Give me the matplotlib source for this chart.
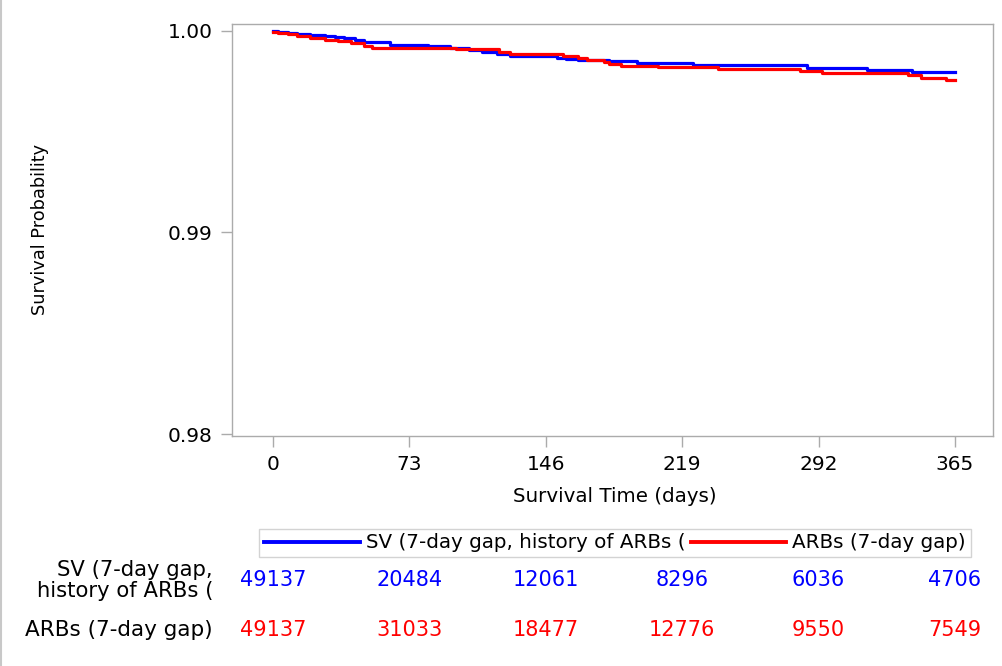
import matplotlib
matplotlib.use("Agg")
import matplotlib.pyplot as plt
from matplotlib.lines import Line2D
from matplotlib.transforms import blended_transform_factory

# Kaplan-Meier step estimates (day, survival probability)
sv_days = [0, 3, 8, 13, 20, 28, 33, 38, 44, 49, 62.7, 83, 95, 105, 112, 120,
           127, 152, 157, 163, 180, 195, 225, 286, 318, 342, 365]
sv_surv = [1.00000, 0.99995, 0.99990, 0.99985, 0.99980, 0.99975, 0.99970,
           0.99964, 0.99957, 0.99947, 0.99931, 0.99926, 0.99914, 0.99907,
           0.99897, 0.99887, 0.99874, 0.99868, 0.99861, 0.99856, 0.99852,
           0.99843, 0.99829, 0.99815, 0.99805, 0.99797, 0.99797]

arb_days = [0, 3, 8, 13, 20, 28, 35, 42, 49, 53, 98, 112, 121, 127, 155, 163,
            168, 177, 180, 186, 206, 238, 282, 294, 340, 347, 360, 365]
arb_surv = [0.99997, 0.99990, 0.99985, 0.99977, 0.99967, 0.99957, 0.99948,
            0.99940, 0.99927, 0.99916, 0.99912, 0.99910, 0.99897, 0.99887,
            0.99876, 0.99864, 0.99858, 0.99848, 0.99835, 0.99828, 0.99820,
            0.99811, 0.99801, 0.99792, 0.99780, 0.99768, 0.99755, 0.99755]

x_ticks = [0, 73, 146, 219, 292, 365]
y_ticks = [0.98, 0.99, 1.00]
y_tick_labels = ["0.98", "0.99", "1.00"]

sv_label = "SV (7-day gap, history of ARBs ("
arb_label = "ARBs (7-day gap)"
sv_row_label = "SV (7-day gap,\nhistory of ARBs ("
arb_row_label = "ARBs (7-day gap)"
sv_at_risk = [49137, 20484, 12061, 8296, 6036, 4706]
arb_at_risk = [49137, 31033, 18477, 12776, 9550, 7549]

BLUE = "#0000FF"
RED = "#FF0000"
GRAY = "#ABABAB"
FONT = "DejaVu Sans"

plt.rcParams["font.family"] = FONT

fig = plt.figure(figsize=(10.02, 6.66), dpi=100)
ax = fig.add_axes([0.2315, 0.3453, 0.991 - 0.2315, 0.964 - 0.3453])

ax.step(sv_days, sv_surv, where="post", color=BLUE, lw=2.3, label=sv_label)
ax.step(arb_days, arb_surv, where="post", color=RED, lw=2.3, label=arb_label)

ax.set_xlim(-21.9, 385.3)
ax.set_ylim(0.97990, 1.000347)
ax.set_xticks(x_ticks)
ax.set_xticklabels([str(t) for t in x_ticks])
ax.set_yticks(y_ticks)
ax.set_yticklabels(y_tick_labels)

for s in ax.spines.values():
    s.set_color(GRAY)
    s.set_linewidth(1.0)
ax.tick_params(axis="both", direction="out", length=8, width=1.0,
               color=GRAY, labelsize=14.5, labelcolor="black", pad=6)

fig.text(0.614, 0.2538, "Survival Time (days)", ha="center", va="center",
         fontsize=14.3)
fig.text(0.040, 0.655, "Survival Probability", ha="center", va="center",
         rotation=90, fontsize=12.8)

handles = [Line2D([], [], color=BLUE, lw=2.8), Line2D([], [], color=RED, lw=2.8)]
leg = fig.legend(handles, [sv_label, arb_label], loc="center",
                 bbox_to_anchor=(0.614, 0.1847), ncol=2, fontsize=14.3,
                 frameon=True, fancybox=False, handlelength=4.8,
                 handletextpad=0.3, columnspacing=0.3, borderpad=0.25,
                 borderaxespad=0)
leg.get_frame().set_edgecolor("#C8C8C8")
leg.get_frame().set_linewidth(1.0)

# Number-at-risk table under the x axis
trans = blended_transform_factory(ax.transData, fig.transFigure)
for x, n in zip(x_ticks, sv_at_risk):
    ax.text(x, 0.129, str(n), transform=trans, ha="center", va="center",
            color=BLUE, fontsize=15, clip_on=False)
for x, n in zip(x_ticks, arb_at_risk):
    ax.text(x, 0.054, str(n), transform=trans, ha="center", va="center",
            color=RED, fontsize=15, clip_on=False)
fig.text(0.2126, 0.129, sv_row_label, ha="right", va="center",
         fontsize=15.2, linespacing=1.07, multialignment="right")
fig.text(0.2126, 0.054, arb_row_label, ha="right", va="center",
         fontsize=15.5)

fig.add_artist(Line2D([0.001, 0.001], [0, 1], transform=fig.transFigure,
                      color="#C8C8C8", lw=1.5))

fig.savefig("out.png", dpi=100)
